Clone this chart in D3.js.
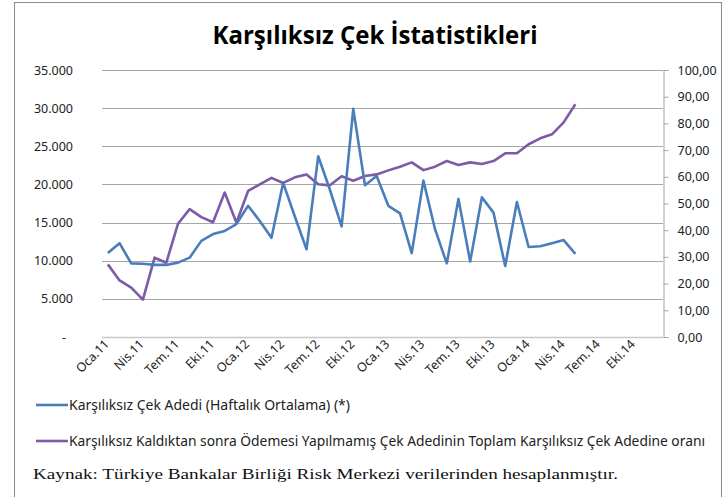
<!DOCTYPE html>
<html>
<head>
<meta charset="utf-8">
<script src="https://cdn.jsdelivr.net/npm/d3@7"></script>
<style>
  body { margin: 0; background: #fff; }
  svg { display: block; }
</style>
</head>
<body>
<div id="chart"></div>
<script>
// 48 monthly categories, Oca.11 .. Ara.14 (only every 3rd is labelled)
const monthNames = ["Oca", "Şub", "Mar", "Nis", "May", "Haz", "Tem", "Ağu", "Eyl", "Eki", "Kas", "Ara"];
const years = ["11", "12", "13", "14"];
const categories = [];
years.forEach(y => monthNames.forEach(m => categories.push(m + "." + y)));
const tickLabels = categories.filter((c, i) => i % 3 === 0);

// weekly average of bounced cheques (left axis)
const chequeCount = [
  11000, 12300, 9650, 9600, 9450, 9450, 9750, 10400, 12600, 13500,
  13900, 14800, 17200, 15200, 13000, 20200, 15800, 11500, 23700, 19300,
  14500, 29900, 19900, 21100, 17200, 16200, 11000, 20500, 14100, 9650,
  18100, 9900, 18300, 16300, 9300, 17700, 11800, 11900, 12300, 12700,
  10900
];

// unpaid share of bounced cheques, % (right axis)
const unpaidRatio = [
  27.2, 21.2, 18.5, 14.0, 29.7, 27.8, 42.4, 47.9, 44.9, 43.0,
  54.1, 42.8, 54.7, 57.2, 59.6, 57.7, 59.8, 60.9, 57.2, 56.8,
  60.2, 58.5, 60.3, 60.9, 62.4, 63.8, 65.4, 62.5, 63.8, 65.9,
  64.4, 65.4, 64.8, 65.9, 68.8, 68.8, 72.2, 74.4, 75.9, 80.4,
  87.2
];

const leftTicks = [0, 5000, 10000, 15000, 20000, 25000, 30000, 35000];
const rightTicks = [0, 10, 20, 30, 40, 50, 60, 70, 80, 90, 100];

const title = "Karşılıksız Çek İstatistikleri";
const seriesNames = [
  "Karşılıksız Çek Adedi (Haftalık Ortalama) (*)",
  "Karşılıksız Kaldıktan sonra Ödemesi Yapılmamış Çek Adedinin Toplam Karşılıksız Çek Adedine oranı"
];
const source = "Kaynak: Türkiye Bankalar Birliği Risk Merkezi verilerinden hesaplanmıştır.";

const blue = "#4a7ebb", purple = "#7d5ba6";

const width = 724, height = 497;
const plot = { left: 102, right: 663, top: 70, bottom: 337 };

const svg = d3.select("#chart").append("svg")
  .attr("width", width)
  .attr("height", height);

// outer frame
svg.append("rect")
  .attr("x", 14.5).attr("y", 2.5)
  .attr("width", 707).attr("height", 500)
  .attr("fill", "none")
  .attr("stroke", "#8c8c8c");

svg.append("text")
  .attr("x", 375).attr("y", 44)
  .attr("text-anchor", "middle")
  .attr("font-family", "'Open Sans', sans-serif")
  .attr("font-weight", "bold")
  .attr("font-size", 25)
  .attr("textLength", 325)
  .attr("lengthAdjust", "spacingAndGlyphs")
  .text(title);

const x = d3.scaleBand()
  .domain(categories)
  .range([plot.left, plot.right]);

const yLeft = d3.scaleLinear().domain([0, 35000]).range([plot.bottom, plot.top]);
const yRight = d3.scaleLinear().domain([0, 100]).range([plot.bottom, plot.top]);

// gridlines
svg.append("g")
  .selectAll("line")
  .data(leftTicks)
  .join("line")
  .attr("x1", plot.left).attr("x2", plot.right)
  .attr("y1", d => Math.round(yLeft(d)) + 0.5)
  .attr("y2", d => Math.round(yLeft(d)) + 0.5)
  .attr("stroke", d => d === 0 ? "#c8c8c8" : "#a6a6a6")
  .attr("stroke-width", d => d === 0 ? 1.5 : 1);

const fmtLeft = d => d === 0 ? "-" : d3.format(",")(d).replace(/,/g, ".");
const fmtRight = d => d3.format(".2f")(d).replace(".", ",");

// left axis (labels only)
svg.append("g")
  .selectAll("text")
  .data(leftTicks)
  .join("text")
  .attr("x", d => d === 0 ? 66 : 73)
  .attr("y", d => yLeft(d) + 4.5)
  .attr("text-anchor", "end")
  .attr("font-family", "'Noto Sans', sans-serif")
  .attr("font-size", 12.5)
  .attr("fill", "#222")
  .text(fmtLeft);

// right axis
const rightAxis = svg.append("g")
  .attr("transform", `translate(${plot.right + 0.5},0)`)
  .call(d3.axisRight(yRight).tickValues(rightTicks).tickSize(5).tickPadding(9).tickFormat(fmtRight));
rightAxis.select(".domain").attr("stroke", "#a6a6a6");
rightAxis.selectAll(".tick line").attr("stroke", "#a6a6a6");
rightAxis.selectAll(".tick text")
  .attr("font-family", "'Noto Sans', sans-serif")
  .attr("font-size", 12.5)
  .attr("fill", "#222");

// x axis labels, rotated
svg.append("g")
  .selectAll("text")
  .data(tickLabels)
  .join("text")
  .attr("transform", d => `translate(${x(d) + x.bandwidth() / 2 + 2},${plot.bottom + 8}) rotate(-45)`)
  .attr("text-anchor", "end")
  .attr("font-family", "'Noto Sans', sans-serif")
  .attr("font-size", 12.5)
  .attr("fill", "#222")
  .text(d => d);

const cx = i => x(categories[i]) + x.bandwidth() / 2;

const lineLeft = d3.line().x((d, i) => cx(i)).y(d => yLeft(d));
const lineRight = d3.line().x((d, i) => cx(i)).y(d => yRight(d));

svg.append("path")
  .datum(unpaidRatio)
  .attr("fill", "none")
  .attr("stroke", purple)
  .attr("stroke-width", 2.6)
  .attr("stroke-linejoin", "round")
  .attr("d", lineRight);

svg.append("path")
  .datum(chequeCount)
  .attr("fill", "none")
  .attr("stroke", blue)
  .attr("stroke-width", 2.6)
  .attr("stroke-linejoin", "round")
  .attr("d", lineLeft);

// legend
const legend = svg.append("g");
const legendY = [405, 441];
const legendColors = [blue, purple];
const legendLen = [281, 636];
seriesNames.forEach((name, i) => {
  legend.append("line")
    .attr("x1", 36).attr("x2", 68)
    .attr("y1", legendY[i]).attr("y2", legendY[i])
    .attr("stroke", legendColors[i])
    .attr("stroke-width", 2.6);
  legend.append("text")
    .attr("x", 69).attr("y", legendY[i] + 5)
    .attr("font-family", "'Noto Sans', sans-serif")
    .attr("font-size", 13.5)
    .attr("fill", "#222")
    .attr("textLength", legendLen[i])
    .attr("lengthAdjust", "spacingAndGlyphs")
    .text(name);
});

svg.append("text")
  .attr("x", 33).attr("y", 479)
  .attr("font-family", "'Liberation Serif', serif")
  .attr("font-size", 15)
  .attr("fill", "#111")
  .attr("textLength", 585)
  .attr("lengthAdjust", "spacingAndGlyphs")
  .text(source);
</script>
</body>
</html>
